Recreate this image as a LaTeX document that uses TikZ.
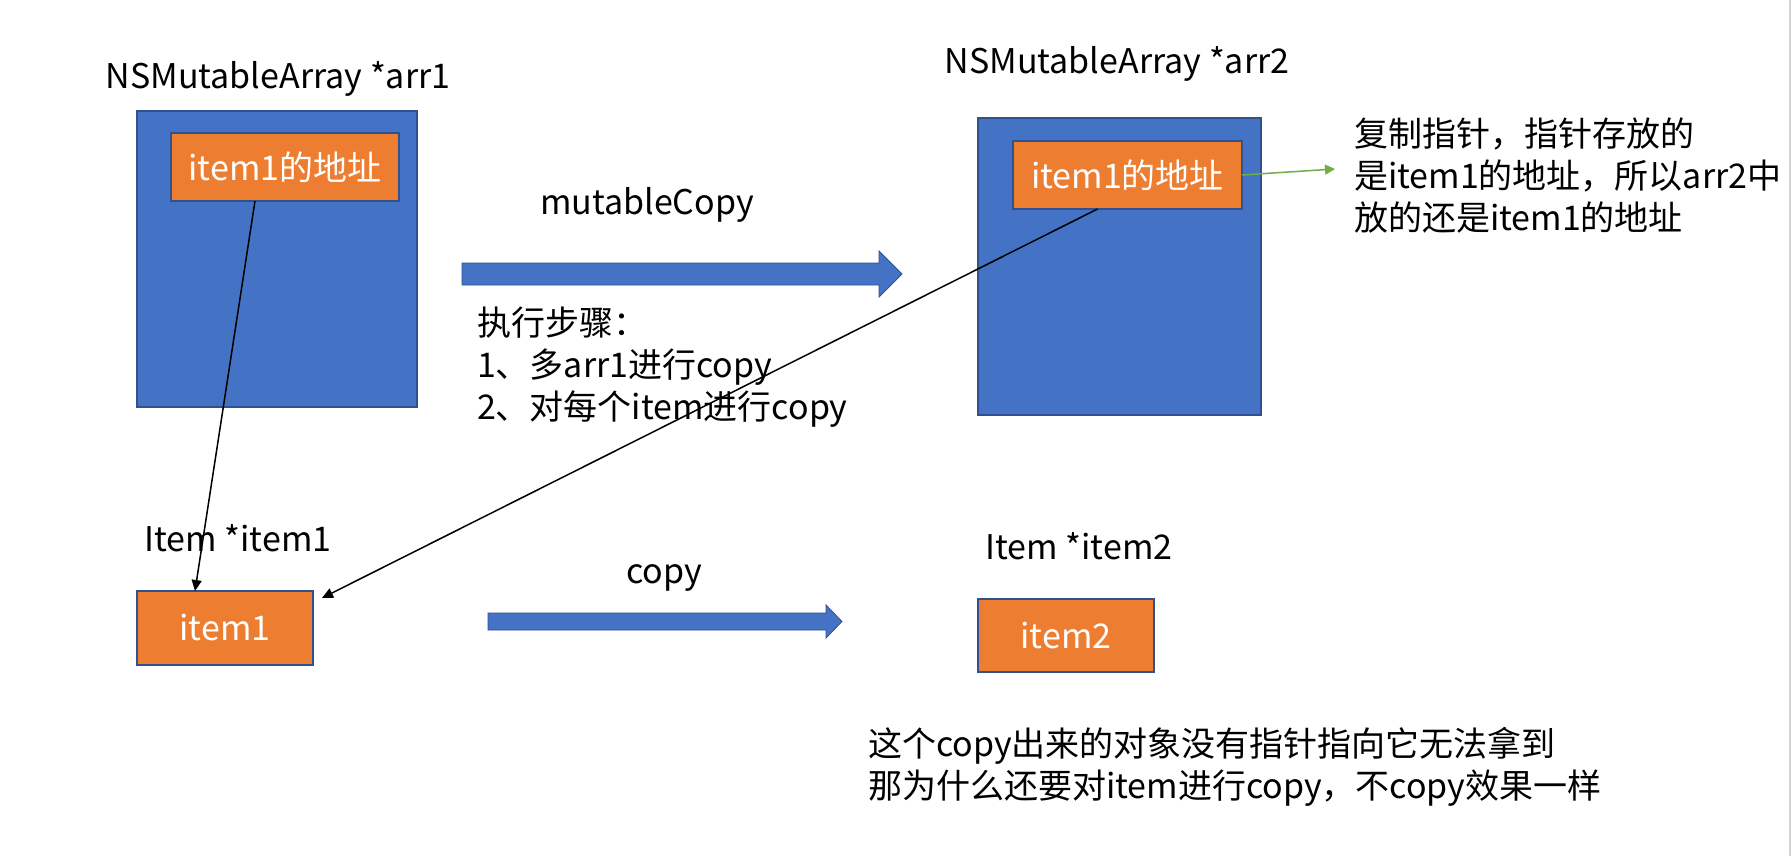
\documentclass[tikz,border=0pt]{standalone}
\usepackage{fontspec}
\setmainfont{Noto Sans CJK SC}
\usetikzlibrary{arrows.meta,calc}
\definecolor{oblue}{HTML}{4472C4}
\definecolor{oborder}{HTML}{2F528F}
\definecolor{oorange}{HTML}{ED7D31}
\definecolor{ogreen}{HTML}{70AD47}
\begin{document}
\begin{tikzpicture}[x=0.5pt,y=-0.5pt,
  every node/.style={inner sep=0pt, outer sep=0pt},
  txt/.style={font=\fontsize{17pt}{21pt}\selectfont, text=black, align=left},
  arrbox/.style={draw=oborder, line width=0.75pt, fill=oblue},
  itembox/.style={draw=oborder, line width=0.75pt, fill=oorange, text=white, font=\fontsize{17pt}{21pt}\selectfont},
  bigarrow/.style={fill=oblue, draw=oborder, line width=0.4pt},
  ptr/.style={draw=black, line width=0.75pt, -{Triangle[length=5.5pt,width=5pt]}},
  gptr/.style={draw=ogreen, line width=0.75pt, -{Triangle[length=5pt,width=5pt]}},
]
\useasboundingbox (0,0) rectangle (1792,856);
\fill[white] (0,0) rectangle (1792,856);
\draw[gray!35, line width=1pt] (1790,0) -- (1790,856);

% titles
\node[txt] (t1) at (278,79) {NSMutableArray *arr1};
\node[txt] (t2) at (1117,64) {NSMutableArray *arr2};
\node[txt] (t3) at (238,538) {Item *item1};
\node[txt] (t4) at (1079,546) {Item *item2};

% boxes
\node[arrbox, minimum width=140pt, minimum height=148pt] (arr1) at (277,259) {};
\node[itembox, minimum width=114pt, minimum height=34pt] (a1in) at (285,167) {item1的地址};
\node[arrbox, minimum width=141.5pt, minimum height=148.5pt] (arr2) at (1119.5,266.5) {};
\node[itembox, minimum width=114.5pt, minimum height=34pt] (a2in) at (1127.5,175) {item1的地址};
\node[itembox, minimum width=88pt, minimum height=37pt] (it1) at (225,628) {item1};
\node[itembox, minimum width=88pt, minimum height=36.5pt] (it2) at (1066,635.5) {item2};

% big arrows
\draw[bigarrow] (462,263) -- (879,263) -- (879,251) -- (902,274) -- (879,297) -- (879,285) -- (462,285) -- cycle;
\draw[bigarrow] (488,613) -- (826,613) -- (826,605) -- (842,621.5) -- (826,638) -- (826,630) -- (488,630) -- cycle;

% labels
\node[txt] (lm) at (647,205) {mutableCopy};
\node[txt] (lc) at (664,578) {copy};
\node[txt, anchor=west] (steps) at (477,367) {执行步骤：\\1、多arr1进行copy\\2、对每个item进行copy};
\node[txt, anchor=west] (note) at (1354,176) {复制指针，指针存放的\\是item1的地址，所以arr2中\\放的还是item1的地址};
\node[txt, anchor=west] (bottom) at (868,767) {这个copy出来的对象没有指针指向它无法拿到\\那为什么还要对item进行copy，不copy效果一样};

% pointers
\coordinate (it1tip) at (322,598);
\coordinate (gtip) at (1335,169);
\draw[ptr] ([xshift=-15pt]a1in.south) -- ([xshift=-15pt]it1.north);
\draw[ptr] ([xshift=-15pt]a2in.south) -- (it1tip);
\draw[gptr] (a2in.east) -- (gtip);
\end{tikzpicture}
\end{document}
